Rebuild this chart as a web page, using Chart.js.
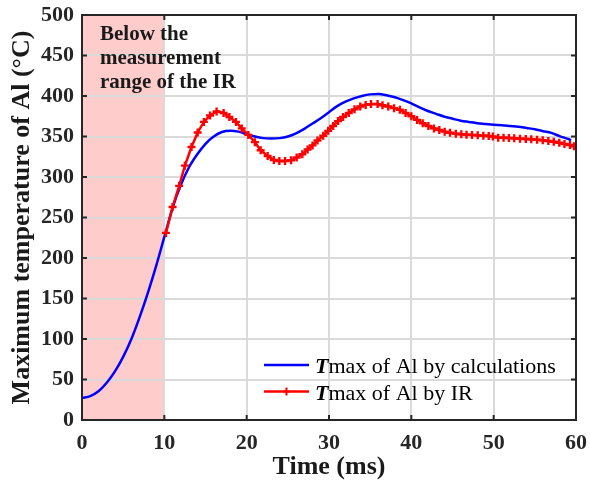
<!DOCTYPE html>
<html lang="en">
<head>
  <meta charset="UTF-8" />
  <title>Maximum temperature of Al</title>
  <script src="https://cdn.jsdelivr.net/npm/chart.js"></script>
  <style>
    body {
      margin: 0;
      padding: 0;
      background: #fff;
    }
    canvas {
      display: block;
    }
  </style>
</head>
<body>
  <canvas id="grafico" width="590" height="486"></canvas>

  <script>
    // calculation curve (ms, °C)
    const blueTime = [0, 1, 2, 3, 4, 5, 6, 7, 8, 9, 10, 11, 12, 13, 14, 15, 16, 17, 18, 19,
      20, 21, 22, 23, 24, 25, 26, 27, 28, 29, 30, 31, 32, 33, 34, 35, 36, 37, 38, 39,
      40, 41, 42, 43, 44, 45, 46, 47, 48, 49, 50, 51, 52, 53, 54, 55, 56, 57, 58, 59, 59.4];
    const blueTemp = [27, 29.5, 35.5, 46, 60, 78, 100, 127, 157, 190, 226, 262, 290, 312, 328, 341, 350, 355.5, 357, 356,
      353, 350, 348, 347.5, 348, 350, 354, 359.5, 366, 372.5, 380, 387.5, 393, 397, 400, 402, 402.5, 401, 398.5, 395,
      391, 386, 381.5, 378, 374.5, 372, 369.5, 368, 366.5, 365.5, 364.5, 364, 363, 362, 360.5, 359, 356.5, 354.5, 350.5, 347, 345.5];

    // IR measurement (ms, °C)
    const redTime = [10.2, 11.0, 11.8, 12.5, 13.3, 14.05, 14.8, 15.55, 16.35, 17.2,
      17.9, 18.7, 19.4, 20.2, 21.0, 21.7, 22.55, 23.3, 23.97, 24.66,
      25.39, 26.07, 26.76, 27.4, 28.0, 28.6, 29.3, 29.9, 30.5, 31.1,
      31.7, 32.4, 33.1, 33.8, 34.45, 35.1, 35.9, 36.5, 37.2, 37.9,
      38.6, 39.3, 40.0, 40.7, 41.38, 42.07, 42.75, 43.4, 44.05, 44.7,
      45.4, 46.07, 46.7, 47.37, 48.06, 48.75, 49.4, 49.9, 50.55, 51.2,
      51.85, 52.5, 53.2, 53.9, 54.57, 55.27, 55.96, 56.64, 57.3, 57.97,
      58.6, 59.27, 59.76];
    const redTemp = [231, 263, 289, 314, 337, 355, 368, 376, 381, 379,
      374, 368, 360, 352, 343, 333, 326, 321, 319.8, 319.8,
      320.6, 324, 328, 334, 339, 345, 351, 357, 363, 369,
      374, 379, 383.5, 387, 389, 390, 390, 388.5, 387, 385,
      383, 379, 375, 370.5, 366.3, 363, 360, 358, 356, 354.7,
      353.5, 352.7, 352.3, 352, 351.5, 351, 350.6, 350, 348.6, 348.4,
      348.1, 347.7, 347.3, 346.9, 346.5, 346, 345.3, 344.4, 343.6, 342.3,
      340.7, 339.5, 338];

    const shadeRange = [0, 10];
    const shadeText = ["Below the", "measurement", "range of the IR"];
    const legendLabels = ["max of Al by calculations", "max of Al by IR"];
    const colores = ["#0000ff", "#ff0000"];

    const serif = '"Liberation Serif", "Times New Roman", serif';
    const ejeColor = "#262626";

    const toPts = (xs, ys) => xs.map((x, i) => ({ x: x, y: ys[i] }));

    // pink band + note, band goes under the grid
    const zonaIR = {
      id: 'zonaIR',
      beforeDraw(chart) {
        const { ctx, chartArea } = chart;
        const x = chart.scales.x;
        const x0 = x.getPixelForValue(shadeRange[0]);
        const x1 = x.getPixelForValue(shadeRange[1]);
        ctx.save();
        ctx.fillStyle = "#ffcccc";
        ctx.fillRect(x0, chartArea.top, x1 - x0, chartArea.bottom - chartArea.top);
        ctx.restore();
      },
      afterDraw(chart) {
        const { ctx, chartArea } = chart;
        ctx.save();
        ctx.fillStyle = "#1a1a1a";
        ctx.font = 'bold 21px ' + serif;
        ctx.textAlign = 'left';
        ctx.textBaseline = 'alphabetic';
        shadeText.forEach((t, i) => {
          ctx.fillText(t, chartArea.left + 18, chartArea.top + 24.5 + i * 24);
        });
        ctx.restore();
      }
    };

    // box, inward ticks and legend
    const marco = {
      id: 'marco',
      afterDraw(chart) {
        const { ctx, chartArea } = chart;
        const { left, right, top, bottom } = chartArea;
        const sx = chart.scales.x, sy = chart.scales.y;
        ctx.save();
        ctx.strokeStyle = ejeColor;
        ctx.lineWidth = 2;
        ctx.beginPath();
        sx.ticks.forEach(t => {
          const p = sx.getPixelForValue(t.value);
          ctx.moveTo(p, bottom); ctx.lineTo(p, bottom - 5);
          ctx.moveTo(p, top); ctx.lineTo(p, top + 5);
        });
        sy.ticks.forEach(t => {
          const p = sy.getPixelForValue(t.value);
          ctx.moveTo(left, p); ctx.lineTo(left + 5, p);
          ctx.moveTo(right, p); ctx.lineTo(right - 5, p);
        });
        ctx.stroke();
        ctx.strokeRect(left, top, right - left, bottom - top);

        // legend
        const lx = 264, ly = [365, 391.5];
        legendLabels.forEach((lab, i) => {
          ctx.strokeStyle = colores[i];
          ctx.lineWidth = 2.5;
          ctx.beginPath();
          ctx.moveTo(lx, ly[i]);
          ctx.lineTo(lx + 45, ly[i]);
          ctx.stroke();
          if (i === 1) {
            ctx.lineWidth = 2;
            ctx.beginPath();
            ctx.moveTo(lx + 22.5, ly[i] - 4); ctx.lineTo(lx + 22.5, ly[i] + 4);
            ctx.moveTo(lx + 19, ly[i]); ctx.lineTo(lx + 26, ly[i]);
            ctx.stroke();
          }
          ctx.fillStyle = "#000";
          ctx.textBaseline = 'alphabetic';
          ctx.textAlign = 'left';
          ctx.font = 'italic bold 22px ' + serif;
          ctx.fillText("T", lx + 51, ly[i] + 8);
          const w = ctx.measureText("T").width;
          ctx.font = '22px ' + serif;
          ctx.fillText(lab, lx + 51 + w, ly[i] + 8);
        });
        ctx.restore();
      }
    };

    new Chart(document.getElementById("grafico"), {
      type: "line",
      data: {
        datasets: [{
          label: "Tmax of Al by calculations",
          data: toPts(blueTime, blueTemp),
          borderColor: colores[0],
          borderWidth: 2.5,
          pointRadius: 0,
          cubicInterpolationMode: 'monotone',
          order: 1
        }, {
          label: "Tmax of Al by IR",
          data: toPts(redTime, redTemp),
          borderColor: colores[1],
          backgroundColor: colores[1],
          borderWidth: 2.5,
          pointStyle: 'cross',
          pointRadius: 4,
          pointBorderWidth: 2.4,
          tension: 0,
          order: 0
        }]
      },
      options: {
        responsive: false,
        animation: false,
        layout: { padding: { top: 15, right: 14, left: 0, bottom: 0 } },
        plugins: {
          legend: { display: false },
          tooltip: { enabled: false }
        },
        scales: {
          x: {
            type: 'linear',
            min: 0,
            max: 60,
            afterFit(scale) {
              scale.height = 66;
              scale.paddingLeft = 0;
              scale.paddingRight = 0;
            },
            ticks: {
              stepSize: 10,
              padding: 10,
              color: ejeColor,
              font: { family: serif, size: 22, weight: 'bold' }
            },
            grid: { color: "#dadada", lineWidth: 2, drawTicks: false },
            border: { display: false },
            title: {
              display: true,
              text: "Time (ms)",
              color: "#1a1a1a",
              padding: { top: 0, bottom: 3 },
              font: { family: serif, size: 26, weight: 'bold', lineHeight: 1.2 }
            }
          },
          y: {
            min: 0,
            max: 500,
            afterFit(scale) {
              scale.width = 82;
              scale.paddingTop = 0;
              scale.paddingBottom = 0;
            },
            ticks: {
              stepSize: 50,
              padding: 8,
              color: ejeColor,
              font: { family: serif, size: 22, weight: 'bold' }
            },
            grid: { color: "#dadada", lineWidth: 2, drawTicks: false },
            border: { display: false },
            title: {
              display: true,
              text: "Maximum temperature of Al (°C)",
              color: "#1a1a1a",
              padding: { top: 7, bottom: 0 },
              font: { family: serif, size: 26, weight: 'bold', lineHeight: 1.2 }
            }
          }
        }
      },
      plugins: [zonaIR, marco]
    });
  </script>
</body>
</html>
